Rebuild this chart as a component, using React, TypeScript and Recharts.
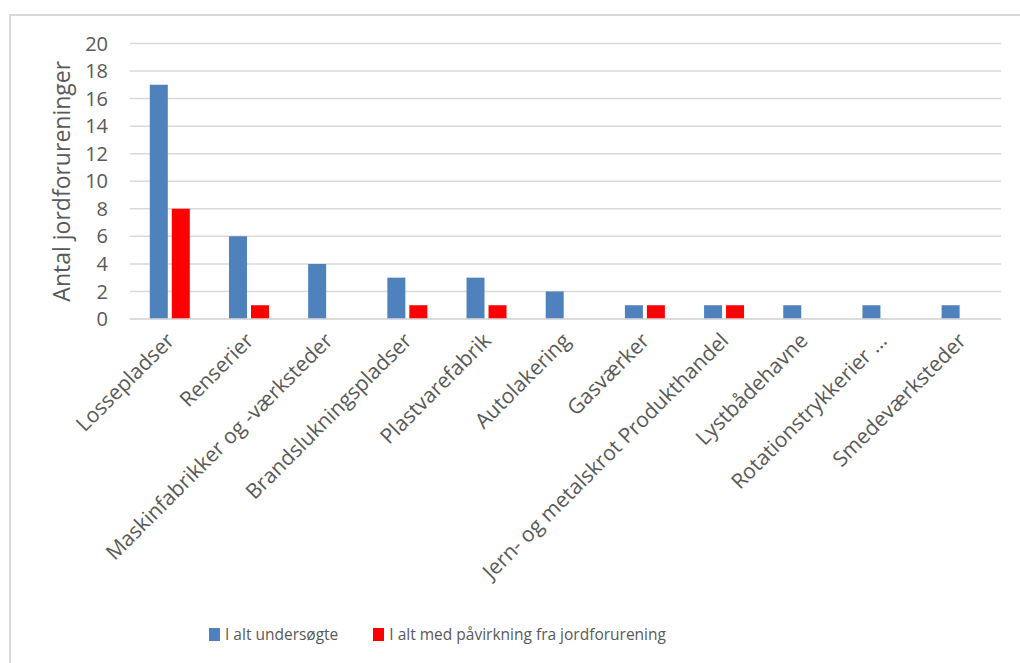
import { BarChart, Bar, XAxis, YAxis, CartesianGrid } from 'recharts';

const categories = [
  'Lossepladser',
  'Renserier',
  'Maskinfabrikker og -værksteder',
  'Brandslukningspladser',
  'Plastvarefabrik',
  'Autolakering',
  'Gasværker',
  'Jern- og metalskrot Produkthandel',
  'Lystbådehavne',
  'Rotationstrykkerier ...',
  'Smedeværksteder',
];
const undersoegte = [17, 6, 4, 3, 3, 2, 1, 1, 1, 1, 1];
const paavirkning = [8, 1, 0, 1, 1, 0, 1, 1, 0, 0, 0];
const yTicks = [0, 2, 4, 6, 8, 10, 12, 14, 16, 18, 20];

const BLUE = '#4F81BD';
const RED = '#FF0000';
const TEXT = '#595959';
const FONT = "'Open Sans', sans-serif";

const data = categories.map((name, i) => ({
  name,
  a: undersoegte[i],
  b: paavirkning[i],
}));

// rotated category labels, anchored at their right end
const CategoryTick = (props: any) => {
  const { x, y, payload } = props;
  const tx = x + 6;
  const ty = y + 15;
  return (
    <text
      x={tx}
      y={ty}
      transform={`rotate(-45, ${tx}, ${ty})`}
      textAnchor="end"
      fill={TEXT}
      fontSize={21}
      fontFamily={FONT}
    >
      {payload.value}
    </text>
  );
};

export default function App() {
  return (
    <div style={{ position: 'absolute', left: 0, top: 0, width: 1020, height: 663, background: '#fff', overflow: 'hidden' }}>
      <div
        style={{
          position: 'absolute',
          left: 9,
          top: 14,
          width: 1100,
          height: 700,
          borderLeft: '2px solid #d9d9d9',
          borderTop: '2px solid #d9d9d9',
        }}
      />
      <BarChart
        width={1020}
        height={663}
        data={data}
        margin={{ top: 43.5, right: 19, bottom: 0, left: 20 }}
        barCategoryGap="25%"
        barGap={4}
        style={{ position: 'absolute', left: 0, top: 0 }}
      >
        <CartesianGrid vertical={false} stroke="#d9d9d9" strokeWidth={1.5} />
        <XAxis
          dataKey="name"
          interval={0}
          height={344}
          tickLine={false}
          axisLine={{ stroke: '#d9d9d9', strokeWidth: 1.5 }}
          tick={<CategoryTick />}
        />
        <YAxis
          width={110}
          domain={[0, 20]}
          ticks={yTicks}
          interval={0}
          tickLine={false}
          axisLine={false}
          tickSize={0}
          tickMargin={22}
          tick={{ fill: TEXT, fontSize: 20, fontFamily: FONT }}
          label={{
            value: 'Antal jordforureninger',
            angle: -90,
            position: 'center',
            dx: -13,
            fill: TEXT,
            fontSize: 23,
            fontFamily: FONT,
          }}
        />
        <Bar dataKey="a" name="I alt undersøgte" fill={BLUE} isAnimationActive={false} />
        <Bar dataKey="b" name="I alt med påvirkning fra jordforurening" fill={RED} isAnimationActive={false} />
      </BarChart>
      <div
        style={{
          position: 'absolute',
          left: 209,
          top: 623,
          display: 'flex',
          alignItems: 'center',
          fontFamily: FONT,
          fontSize: 15.5,
          color: TEXT,
          whiteSpace: 'nowrap',
        }}
      >
        <span style={{ width: 11, height: 13, background: BLUE, display: 'inline-block', marginRight: 5 }} />
        <span style={{ marginRight: 35 }}>I alt undersøgte</span>
        <span style={{ width: 11, height: 13, background: RED, display: 'inline-block', marginRight: 5 }} />
        <span>I alt med påvirkning fra jordforurening</span>
      </div>
    </div>
  );
}
